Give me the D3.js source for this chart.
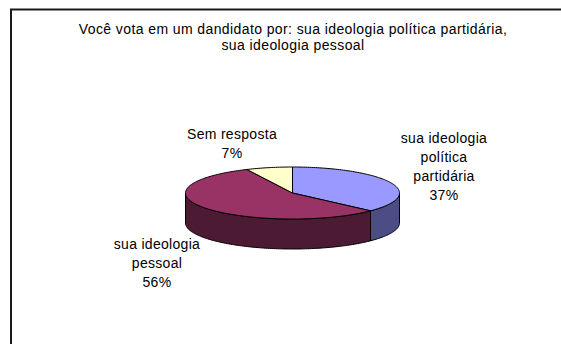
<!DOCTYPE html>
<html>
<head>
<meta charset="utf-8">
<script src="https://cdn.jsdelivr.net/npm/d3@7"></script>
<style>
  html, body { margin: 0; padding: 0; background: #fff; }
  svg { display: block; }
  text { font-family: "Liberation Sans", Arial, sans-serif; fill: #000; }
</style>
</head>
<body>
<svg id="chart" width="561" height="344"></svg>
<script>
// Survey answers
const categories = ["sua ideologia política partidária", "sua ideologia pessoal", "Sem resposta"];
const values = [37, 56, 7];
const labelLines = [
  ["sua ideologia", "política", "partidária", "37%"],
  ["sua ideologia", "pessoal", "56%"],
  ["Sem resposta", "7%"]
];
const titleLines = [
  "Você vota em um dandidato por: sua ideologia política partidária,",
  "sua ideologia pessoal"
];

const topColors = ["#9999ff", "#993366", "#ffffcc"];
const sideColors = ["#4d4d85", "#4d1a33", "#808066"];

const W = 561, H = 344;
const svg = d3.select("#chart");

// Frame
svg.append("rect")
  .attr("x", 11).attr("y", 9.5)
  .attr("width", W).attr("height", H)
  .attr("fill", "#fff").attr("stroke", "#1a1a1a").attr("stroke-width", 2);

// Title
const title = svg.append("text")
  .attr("text-anchor", "middle")
  .attr("font-size", 14)
  .attr("letter-spacing", 0.4);
titleLines.forEach((t, i) => {
  title.append("tspan").attr("x", 293).attr("y", 34 + i * 15.5).text(t);
});

// 3D pie geometry
const cx = 292.5, cy = 193, rx = 107, ry = 26, depth = 30;
const pie = d3.pie().sort(null).value(d => d).startAngle(0).endAngle(2 * Math.PI);
const arcs = pie(values);

// point on the ellipse at angle a (clockwise from 12 o'clock)
const pt = (a, dy = 0) => [cx + rx * Math.sin(a), cy - ry * Math.cos(a) + dy];

function ellipseArc(a0, a1, dy) {
  const n = Math.max(2, Math.ceil((a1 - a0) / 0.02));
  return d3.range(n + 1).map(i => pt(a0 + (a1 - a0) * i / n, dy));
}

const line = d3.line();

// Side walls (front half only: angles between PI/2 and 3PI/2)
const g = svg.append("g");
arcs.forEach((d, i) => {
  const a0 = Math.max(d.startAngle, Math.PI / 2);
  const a1 = Math.min(d.endAngle, 3 * Math.PI / 2);
  if (a1 <= a0) return;
  const topEdge = ellipseArc(a0, a1, 0);
  const botEdge = ellipseArc(a0, a1, depth).reverse();
  g.append("path")
    .attr("d", line(topEdge.concat(botEdge)) + "Z")
    .attr("fill", sideColors[i])
    .attr("stroke", "#000").attr("stroke-width", 1)
    .attr("stroke-linejoin", "round");
});

// Top faces
arcs.forEach((d, i) => {
  const pts = [[cx, cy]].concat(ellipseArc(d.startAngle, d.endAngle, 0));
  g.append("path")
    .attr("d", line(pts) + "Z")
    .attr("fill", topColors[i])
    .attr("stroke", "#000").attr("stroke-width", 1)
    .attr("stroke-linejoin", "round");
});

// Data labels
const labelPos = [
  { x: 444, y: 143 },
  { x: 157, y: 249 },
  { x: 232, y: 139 }
];
const lh = 19;
labelLines.forEach((lines, i) => {
  const t = svg.append("text")
    .attr("text-anchor", "middle")
    .attr("font-size", 14)
    .attr("letter-spacing", 0.3);
  lines.forEach((s, j) => {
    t.append("tspan").attr("x", labelPos[i].x).attr("y", labelPos[i].y + j * lh).text(s);
  });
});
</script>
</body>
</html>
